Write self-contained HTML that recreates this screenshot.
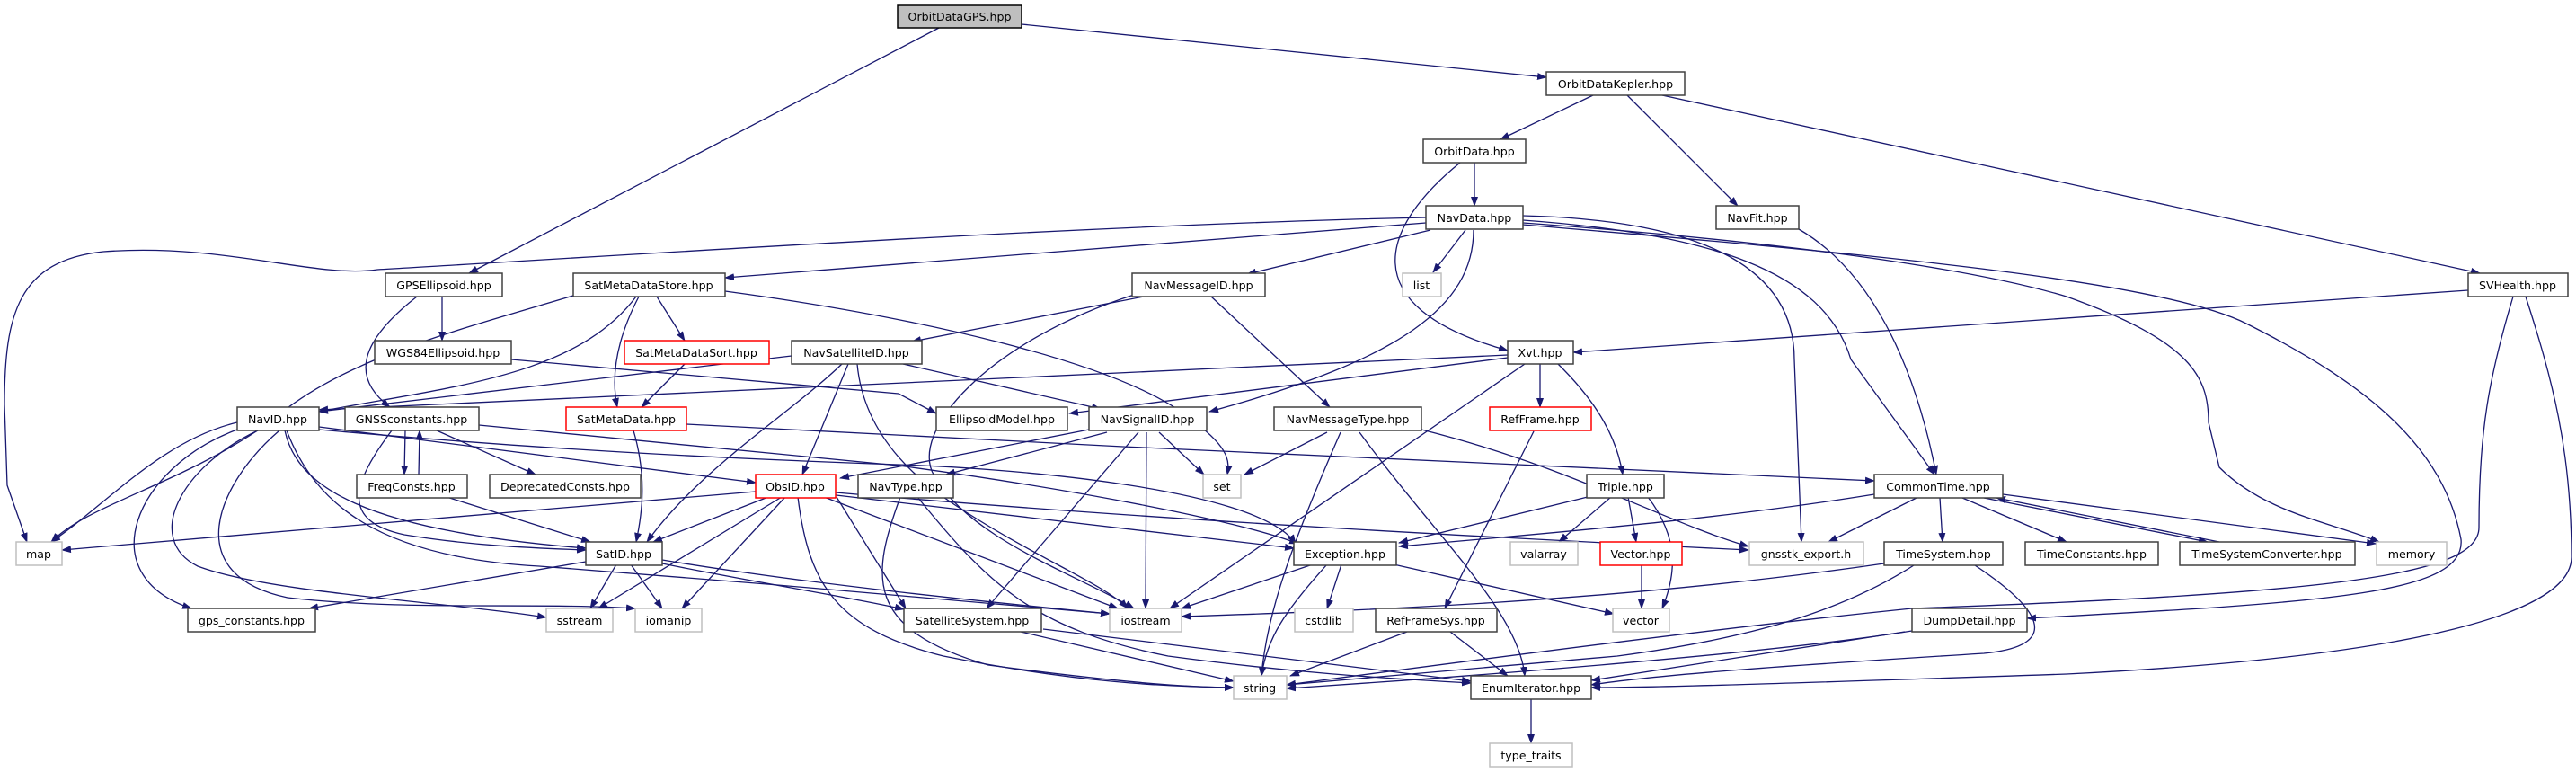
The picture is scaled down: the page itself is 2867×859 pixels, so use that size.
<!DOCTYPE html>
<html><head><meta charset="utf-8"><style>
html,body{margin:0;padding:0;background:#fff;}
svg{display:block;}
text{font-family:"DejaVu Sans","Liberation Sans",sans-serif;font-size:12.6px;fill:#000;text-anchor:middle;}
.e{fill:none;stroke:#191970;stroke-width:1.3;marker-end:url(#a);}
.n{fill:#fff;stroke:#404040;stroke-width:1.5;}
.g{fill:#fff;stroke:#bfbfbf;stroke-width:1.5;}
.r{fill:#fff;stroke:#ff0000;stroke-width:1.5;}
</style></head><body>
<svg width="2867" height="859" viewBox="0 0 2867 859" xmlns="http://www.w3.org/2000/svg">
<defs><marker id="a" markerWidth="11" markerHeight="8" refX="10" refY="4" orient="auto" markerUnits="userSpaceOnUse"><path d="M0,0 L11,4 L0,8 z" fill="#191970"/></marker></defs>
<g>
<path class="e" d="M1045,31 L522,304"/>
<path class="e" d="M1137,27 L1721,86"/>
<path class="e" d="M1773,106 L1670,155"/>
<path class="e" d="M1811,106 L1934,229"/>
<path class="e" d="M1850,106 L2760,304"/>
<path class="e" d="M1641,181 L1641,229"/>
<path class="e" d="M1625,181 C1540,250 1500,340 1678,390"/>
<path class="e" d="M1587,242 C1200,250 600,290 420,300 C350,310 250,270 115,280 C20,290 5,350 5,450 L8,540 L30,603"/>
<path class="e" d="M1587,248 L807,309"/>
<path class="e" d="M1592,256 L1388,305"/>
<path class="e" d="M1631,256 L1595,303"/>
<path class="e" d="M1640,256 C1640,340 1560,400 1346,458"/>
<path class="e" d="M1695,240 C1900,245 1997,300 1997,400 L2005,603"/>
<path class="e" d="M1695,245 C1900,260 2030,300 2060,400 L2153,528"/>
<path class="e" d="M2002,255 C2080,300 2130,400 2155,528"/>
<path class="e" d="M1695,248 C2000,270 2200,300 2300,330 C2440,380 2458,420 2458,470 L2470,520 C2520,570 2590,580 2648,603"/>
<path class="e" d="M1695,250 C2050,280 2400,310 2500,360 C2640,430 2720,500 2739,600 C2745,660 2600,670 2256,688"/>
<path class="e" d="M2747,323 L1751,392"/>
<path class="e" d="M2797,330 C2770,420 2759,480 2759,587 C2759,640 2600,660 2128,677 C1900,700 1600,740 1432,762"/>
<path class="e" d="M2811,330 C2840,420 2862,500 2862,620 C2862,680 2700,730 2300,750 C2000,760 1850,765 1771,765"/>
<path class="e" d="M807,324 C1000,350 1250,400 1330,470 C1370,500 1368,515 1366,528"/>
<path class="e" d="M1273,330 L1015,380"/>
<path class="e" d="M1262,328 C1100,380 1010,480 1040,530 C1080,600 1200,640 1262,677"/>
<path class="e" d="M1348,330 L1480,453"/>
<path class="e" d="M1678,395 L355,456"/>
<path class="e" d="M1678,398 L1190,460"/>
<path class="e" d="M1697,405 L1302,677"/>
<path class="e" d="M1714,405 L1714,453"/>
<path class="e" d="M1734,405 C1780,450 1800,490 1806,528"/>
<path class="e" d="M881,396 L355,458"/>
<path class="e" d="M569,400 L1000,438 L1042,460"/>
<path class="e" d="M1005,405 L1225,455"/>
<path class="e" d="M944,405 L893,528"/>
<path class="e" d="M937,405 C880,460 780,520 720,603"/>
<path class="e" d="M954,405 C960,470 1000,520 1060,560 C1150,620 1230,650 1255,677"/>
<path class="e" d="M1212,478 L935,532"/>
<path class="e" d="M1232,481 L1053,528"/>
<path class="e" d="M1267,481 L1098,677"/>
<path class="e" d="M1276,481 L1275,677"/>
<path class="e" d="M1290,481 L1340,528"/>
<path class="e" d="M1477,481 L1385,528"/>
<path class="e" d="M1492,481 C1440,600 1410,680 1404,752"/>
<path class="e" d="M1513,481 C1600,600 1690,680 1697,752"/>
<path class="e" d="M1582,478 C1750,520 1850,580 1946,608"/>
<path class="e" d="M1707,480 L1608,677"/>
<path class="e" d="M764,472 C1200,495 1700,520 2086,535"/>
<path class="e" d="M533,473 L1000,518 C1200,545 1380,580 1445,605"/>
<path class="e" d="M355,475 L841,537"/>
<path class="e" d="M355,478 C600,500 800,510 1000,517 C1100,520 1400,540 1442,605"/>
<path class="e" d="M638,329 C500,370 380,400 300,470 C200,540 100,560 57,603"/>
<path class="e" d="M708,330 C640,420 500,430 355,458"/>
<path class="e" d="M731,330 L762,379"/>
<path class="e" d="M711,330 C685,380 680,420 687,453"/>
<path class="e" d="M762,405 L714,453"/>
<path class="e" d="M492,330 L492,379"/>
<path class="e" d="M464,330 C400,380 390,420 434,453"/>
<path class="e" d="M705,479 C720,530 715,570 708,603"/>
<path class="e" d="M451,479 L450,528"/>
<path class="e" d="M466,528 L467,479"/>
<path class="e" d="M486,479 L596,528"/>
<path class="e" d="M436,479 C390,540 380,580 450,595 C530,608 600,610 652,612"/>
<path class="e" d="M497,553 L657,603"/>
<path class="e" d="M264,470 C180,490 120,560 57,603"/>
<path class="e" d="M264,478 C150,520 100,640 213,677"/>
<path class="e" d="M287,479 C200,520 160,600 220,630 C300,660 500,670 608,687"/>
<path class="e" d="M311,479 C240,540 200,640 320,665 C450,680 600,670 707,677"/>
<path class="e" d="M317,479 C330,540 400,590 652,610"/>
<path class="e" d="M319,479 C350,560 420,620 600,630 C800,645 1100,670 1235,683"/>
<path class="e" d="M841,547 L69,612"/>
<path class="e" d="M855,553 L727,603"/>
<path class="e" d="M870,553 L666,677"/>
<path class="e" d="M874,553 L759,677"/>
<path class="e" d="M888,553 C900,650 930,700 1050,730 C1200,760 1300,764 1373,765"/>
<path class="e" d="M917,553 L1244,677"/>
<path class="e" d="M922,550 L1440,610"/>
<path class="e" d="M931,553 L1008,677"/>
<path class="e" d="M930,548 C1300,580 1700,600 1946,612"/>
<path class="e" d="M652,625 L344,677"/>
<path class="e" d="M686,628 L657,677"/>
<path class="e" d="M702,628 L737,677"/>
<path class="e" d="M737,623 C900,650 1100,670 1235,683"/>
<path class="e" d="M737,627 C850,650 950,665 1006,678"/>
<path class="e" d="M1002,553 C970,640 960,700 1100,740 C1250,760 1330,765 1373,765"/>
<path class="e" d="M1021,553 C1100,650 1150,700 1300,730 C1450,750 1550,755 1637,760"/>
<path class="e" d="M1136,703 L1373,758"/>
<path class="e" d="M1161,700 L1637,758"/>
<path class="e" d="M1461,628 L1315,677"/>
<path class="e" d="M1493,628 L1477,677"/>
<path class="e" d="M1477,628 C1430,680 1410,710 1404,752"/>
<path class="e" d="M1551,628 L1796,683"/>
<path class="e" d="M1767,553 L1557,604"/>
<path class="e" d="M1793,553 L1735,603"/>
<path class="e" d="M1812,553 L1821,603"/>
<path class="e" d="M1834,553 C1870,600 1865,640 1850,677"/>
<path class="e" d="M1827,628 L1827,677"/>
<path class="e" d="M2086,550 C1900,580 1700,595 1557,608"/>
<path class="e" d="M2133,554 L2035,603"/>
<path class="e" d="M2159,554 L2162,603"/>
<path class="e" d="M2184,554 L2300,603"/>
<path class="e" d="M2208,554 L2457,603"/>
<path class="e" d="M2470,603 L2222,554"/>
<path class="e" d="M2229,550 L2644,605"/>
<path class="e" d="M2097,627 C1800,670 1500,680 1315,686"/>
<path class="e" d="M2130,629 C2050,680 1950,710 1800,730 L1432,762"/>
<path class="e" d="M2198,629 C2290,690 2280,720 2208,727 C2000,740 1850,750 1771,762"/>
<path class="e" d="M2128,702 C1950,730 1600,755 1432,766"/>
<path class="e" d="M2120,703 L1771,757"/>
<path class="e" d="M1566,703 L1436,752"/>
<path class="e" d="M1614,703 L1678,752"/>
<path class="e" d="M1704,778 L1704,827"/>
</g>
<g>
<rect x="999" y="6" width="138" height="25" fill="#bfbfbf" stroke="#000" stroke-width="1.5"/><text x="1068" y="23">OrbitDataGPS.hpp</text>
<rect class="n" x="1721" y="80" width="154" height="26"/><text x="1798" y="98">OrbitDataKepler.hpp</text>
<rect class="n" x="1584" y="155" width="114" height="26"/><text x="1641" y="173">OrbitData.hpp</text>
<rect class="n" x="1587" y="229" width="108" height="26"/><text x="1641" y="247">NavData.hpp</text>
<rect class="n" x="1910" y="229" width="92" height="26"/><text x="1956" y="247">NavFit.hpp</text>
<rect class="n" x="429" y="304" width="130" height="26"/><text x="494" y="322">GPSEllipsoid.hpp</text>
<rect class="n" x="638" y="304" width="169" height="26"/><text x="722" y="322">SatMetaDataStore.hpp</text>
<rect class="n" x="1260" y="304" width="148" height="26"/><text x="1334" y="322">NavMessageID.hpp</text>
<rect class="g" x="1561" y="304" width="43" height="26"/><text x="1582" y="322">list</text>
<rect class="n" x="2747" y="304" width="111" height="26"/><text x="2802" y="322">SVHealth.hpp</text>
<rect class="n" x="417" y="379" width="152" height="26"/><text x="493" y="397">WGS84Ellipsoid.hpp</text>
<rect class="r" x="695" y="379" width="161" height="26"/><text x="775" y="397">SatMetaDataSort.hpp</text>
<rect class="n" x="881" y="379" width="145" height="26"/><text x="953" y="397">NavSatelliteID.hpp</text>
<rect class="n" x="1678" y="379" width="73" height="26"/><text x="1714" y="397">Xvt.hpp</text>
<rect class="n" x="264" y="453" width="91" height="26"/><text x="309" y="471">NavID.hpp</text>
<rect class="n" x="384" y="453" width="149" height="26"/><text x="458" y="471">GNSSconstants.hpp</text>
<rect class="r" x="630" y="453" width="134" height="26"/><text x="697" y="471">SatMetaData.hpp</text>
<rect class="n" x="1042" y="453" width="146" height="26"/><text x="1115" y="471">EllipsoidModel.hpp</text>
<rect class="n" x="1212" y="453" width="131" height="26"/><text x="1277" y="471">NavSignalID.hpp</text>
<rect class="n" x="1418" y="453" width="164" height="26"/><text x="1500" y="471">NavMessageType.hpp</text>
<rect class="r" x="1658" y="453" width="113" height="26"/><text x="1714" y="471">RefFrame.hpp</text>
<rect class="n" x="397" y="528" width="123" height="26"/><text x="458" y="546">FreqConsts.hpp</text>
<rect class="n" x="545" y="528" width="168" height="26"/><text x="629" y="546">DeprecatedConsts.hpp</text>
<rect class="r" x="841" y="528" width="89" height="26"/><text x="885" y="546">ObsID.hpp</text>
<rect class="n" x="955" y="528" width="106" height="26"/><text x="1008" y="546">NavType.hpp</text>
<rect class="g" x="1339" y="528" width="42" height="26"/><text x="1360" y="546">set</text>
<rect class="n" x="1766" y="528" width="86" height="26"/><text x="1809" y="546">Triple.hpp</text>
<rect class="n" x="2086" y="528" width="143" height="26"/><text x="2157" y="546">CommonTime.hpp</text>
<rect class="g" x="18" y="603" width="51" height="26"/><text x="43" y="621">map</text>
<rect class="n" x="652" y="603" width="85" height="26"/><text x="694" y="621">SatID.hpp</text>
<rect class="n" x="1440" y="603" width="114" height="26"/><text x="1497" y="621">Exception.hpp</text>
<rect class="g" x="1681" y="603" width="75" height="26"/><text x="1718" y="621">valarray</text>
<rect class="r" x="1781" y="603" width="91" height="26"/><text x="1826" y="621">Vector.hpp</text>
<rect class="g" x="1947" y="603" width="127" height="26"/><text x="2010" y="621">gnsstk_export.h</text>
<rect class="n" x="2097" y="603" width="132" height="26"/><text x="2163" y="621">TimeSystem.hpp</text>
<rect class="n" x="2254" y="603" width="148" height="26"/><text x="2328" y="621">TimeConstants.hpp</text>
<rect class="n" x="2426" y="603" width="195" height="26"/><text x="2523" y="621">TimeSystemConverter.hpp</text>
<rect class="g" x="2645" y="603" width="78" height="26"/><text x="2684" y="621">memory</text>
<rect class="n" x="209" y="677" width="142" height="26"/><text x="280" y="695">gps_constants.hpp</text>
<rect class="g" x="608" y="677" width="74" height="26"/><text x="645" y="695">sstream</text>
<rect class="g" x="707" y="677" width="74" height="26"/><text x="744" y="695">iomanip</text>
<rect class="n" x="1006" y="677" width="153" height="26"/><text x="1082" y="695">SatelliteSystem.hpp</text>
<rect class="g" x="1235" y="677" width="80" height="26"/><text x="1275" y="695">iostream</text>
<rect class="g" x="1441" y="677" width="65" height="26"/><text x="1473" y="695">cstdlib</text>
<rect class="n" x="1531" y="677" width="135" height="26"/><text x="1598" y="695">RefFrameSys.hpp</text>
<rect class="g" x="1795" y="677" width="63" height="26"/><text x="1826" y="695">vector</text>
<rect class="n" x="2128" y="677" width="128" height="26"/><text x="2192" y="695">DumpDetail.hpp</text>
<rect class="g" x="1373" y="752" width="59" height="26"/><text x="1402" y="770">string</text>
<rect class="n" x="1637" y="752" width="134" height="26"/><text x="1704" y="770">EnumIterator.hpp</text>
<rect class="g" x="1658" y="827" width="92" height="26"/><text x="1704" y="845">type_traits</text>
</g>
</svg>
</body></html>
